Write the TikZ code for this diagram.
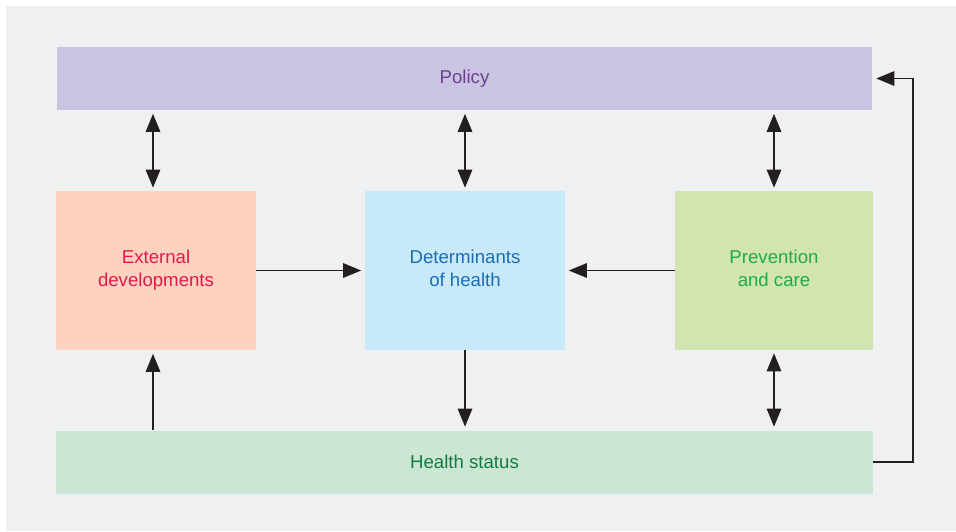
\documentclass[tikz,border=0pt]{standalone}
\usepackage{fontspec}
\setmainfont{Liberation Sans}
\usepackage{tikz}
\usetikzlibrary{arrows.meta}

\definecolor{bgcol}{HTML}{EFF0F2}
\definecolor{polfill}{HTML}{C8C4E2}
\definecolor{poltext}{HTML}{6F3F91}
\definecolor{extfill}{HTML}{FDD3C0}
\definecolor{exttext}{HTML}{E8174B}
\definecolor{detfill}{HTML}{C7E9F9}
\definecolor{dettext}{HTML}{1B6DB5}
\definecolor{prevfill}{HTML}{D2E4B0}
\definecolor{prevtext}{HTML}{1DAB4B}
\definecolor{hsfill}{HTML}{CCE6D4}
\definecolor{hstext}{HTML}{137A41}
\definecolor{arrowcol}{HTML}{231F20}

\begin{document}
\begin{tikzpicture}[x=0.02cm,y=-0.02cm,
  box/.style={inner sep=0pt,align=center,font=\fontsize{10.6}{13}\selectfont},
  bar/.style={box,minimum height=1.26cm},
  block/.style={box,minimum width=4cm,minimum height=3.18cm},
  link/.style={draw=arrowcol,line width=0.75pt,-{Triangle[length=0.36cm,width=0.29cm]},shorten >=0.07cm},
  twoway/.style={link,{Triangle[length=0.36cm,width=0.29cm]}-{Triangle[length=0.36cm,width=0.29cm]},shorten <=0.06cm}]
  \useasboundingbox (0,0) rectangle (956,531);
  \fill[bgcol] (6,6) rectangle (956,531);

  % Policy and health status bars
  \node[bar,fill=polfill,text=poltext,minimum width=16.32cm] (pol) at (464.5,78.5) {Policy};
  \node[bar,fill=hsfill,text=hstext,minimum width=16.34cm] (hs) at (464.5,462) {Health status};

  % The three blocks in the middle
  \node[block,fill=extfill,text=exttext] (ext) at (156,270.5) {External\strut\\developments\strut};
  \node[block,fill=detfill,text=dettext] (det) at (465,270.5) {Determinants\strut\\of health\strut};
  \node[block,fill=prevfill,text=prevtext,minimum width=3.96cm] (prev) at (774,270.5) {Prevention\strut\\and care\strut};

  % Arrow anchors on the external block sit a bit left of its middle
  \coordinate (extn) at ([xshift=-0.06cm]ext.north);
  \coordinate (exts) at ([xshift=-0.06cm]ext.south);

  % Two-way links with policy
  \foreach \b in {extn,det.north,prev.north}
    \draw[twoway] (\b) -- (\b |- pol.south);

  % Links between the blocks
  \draw[link] (ext.east) -- (det.west);
  \draw[link] (prev.west) -- (det.east);
  \draw[link] (det.south) -- (det.south |- hs.north);
  \draw[link] (exts |- hs.north) -- (exts);
  \draw[twoway] (prev.south) -- (prev.south |- hs.north);

  % Feedback from health status to policy
  \coordinate (fb) at (913,78.5);
  \draw[link] (hs.east) -| (fb) -- (pol.east);
\end{tikzpicture}
\end{document}
